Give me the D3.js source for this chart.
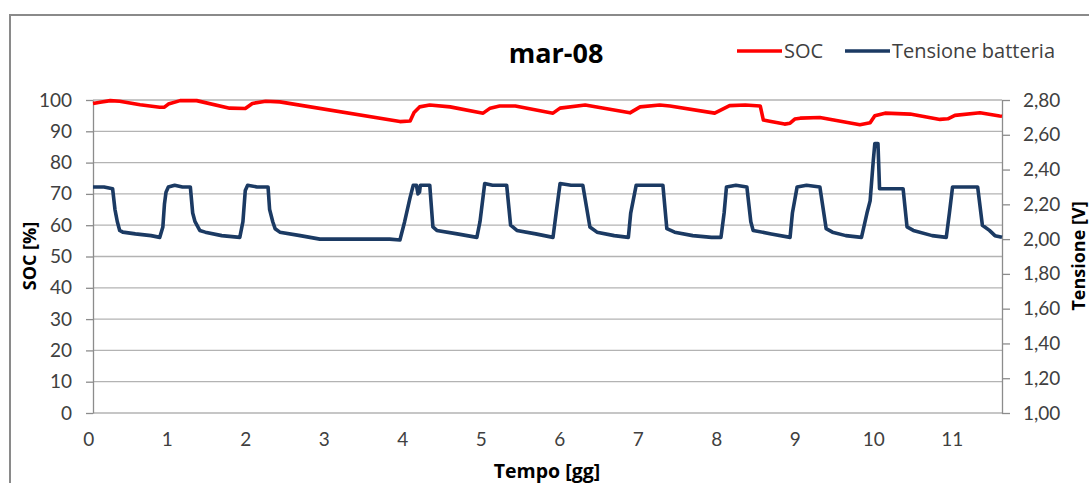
<!DOCTYPE html>
<html>
<head>
<meta charset="utf-8">
<script src="https://cdn.jsdelivr.net/npm/d3@7"></script>
<style>
  body { margin: 0; background: #fff; }
  svg { display: block; font-family: Lato, "Open Sans", sans-serif; }
</style>
</head>
<body>
<svg id="chart"></svg>
<script>
// tempo in giorni, SOC in %
const socTime = [0.06, 0.15, 0.28, 0.40, 0.66, 0.91, 0.97, 1.02, 1.17, 1.38, 1.80, 2.00, 2.09, 2.26, 2.44,
  3.97, 4.10, 4.15, 4.22, 4.35, 4.61, 5.03, 5.12, 5.24, 5.44, 5.92, 6.01, 6.33, 6.90, 7.03, 7.28, 7.41,
  7.98, 8.17, 8.37, 8.56, 8.60, 8.68, 8.87, 8.94, 9.00, 9.07, 9.32, 9.83, 9.96, 10.02, 10.15, 10.47,
  10.85, 10.95, 11.04, 11.36, 11.61, 11.64];
const socValue = [98.9, 99.3, 99.8, 99.6, 98.5, 97.7, 97.7, 98.7, 99.8, 99.8, 97.4, 97.3, 98.9, 99.6, 99.4,
  93.1, 93.3, 96.0, 97.8, 98.4, 97.8, 95.8, 97.4, 98.1, 98.1, 95.8, 97.4, 98.4, 95.9, 97.8, 98.4, 98.1,
  95.8, 98.2, 98.4, 98.1, 93.6, 93.2, 92.3, 92.6, 93.9, 94.2, 94.4, 92.1, 92.7, 95.0, 95.8, 95.5,
  93.8, 94.0, 95.1, 95.9, 94.9, 94.8];

// tensione batteria in V
const vTime = [0.06, 0.20, 0.31, 0.34, 0.37, 0.40, 0.44, 0.60, 0.80, 0.91, 0.95, 0.97, 0.99, 1.02, 1.10, 1.20, 1.30,
  1.33, 1.36, 1.42, 1.49, 1.70, 1.93, 1.97, 2.00, 2.03, 2.15, 2.29, 2.31, 2.35, 2.38, 2.44, 2.70, 2.95,
  3.84, 3.97, 4.03, 4.10, 4.14, 4.18, 4.20, 4.22, 4.23, 4.35, 4.39, 4.44, 4.70, 4.95, 4.99, 5.05, 5.15,
  5.25, 5.33, 5.38, 5.46, 5.70, 5.92, 5.96, 6.01, 6.15, 6.30, 6.39, 6.48, 6.70, 6.88, 6.91, 6.98, 7.15,
  7.32, 7.37, 7.47, 7.70, 7.94, 8.06, 8.10, 8.13, 8.25, 8.39, 8.44, 8.47, 8.70, 8.94, 8.97, 9.03, 9.15,
  9.32, 9.40, 9.48, 9.65, 9.85, 9.92, 9.96, 10.00, 10.02, 10.06, 10.08, 10.38, 10.43, 10.51, 10.75,
  10.93, 10.97, 11.01, 11.15, 11.33, 11.39, 11.48, 11.55, 11.64];
const vValue = [2.30, 2.30, 2.29, 2.17, 2.10, 2.05, 2.04, 2.03, 2.02, 2.01, 2.07, 2.20, 2.27, 2.30, 2.31, 2.30, 2.30,
  2.15, 2.10, 2.05, 2.04, 2.02, 2.01, 2.10, 2.28, 2.31, 2.30, 2.30, 2.17, 2.10, 2.06, 2.04, 2.02, 2.00,
  2.00, 1.995, 2.10, 2.24, 2.31, 2.31, 2.26, 2.27, 2.31, 2.31, 2.07, 2.05, 2.03, 2.01, 2.10, 2.32, 2.31,
  2.31, 2.31, 2.08, 2.05, 2.03, 2.01, 2.15, 2.32, 2.31, 2.31, 2.07, 2.04, 2.02, 2.01, 2.15, 2.31, 2.31,
  2.31, 2.06, 2.04, 2.02, 2.01, 2.01, 2.15, 2.30, 2.31, 2.30, 2.10, 2.05, 2.03, 2.01, 2.15, 2.30, 2.31,
  2.30, 2.06, 2.04, 2.02, 2.01, 2.15, 2.22, 2.45, 2.55, 2.55, 2.29, 2.29, 2.07, 2.05, 2.02,
  2.01, 2.15, 2.30, 2.30, 2.30, 2.08, 2.05, 2.02, 2.01];

const xTicks = [0, 1, 2, 3, 4, 5, 6, 7, 8, 9, 10, 11];
const socTicks = [0, 10, 20, 30, 40, 50, 60, 70, 80, 90, 100];
const vTicks = [1.0, 1.2, 1.4, 1.6, 1.8, 2.0, 2.2, 2.4, 2.6, 2.8];

const svgWidth = 1089;
const svgHeight = 483;
const plot = { left: 93, right: 1002, top: 100, bottom: 413 };
const labelColor = "#404040";
const gridColor = "#b3b3b3";
const axisColor = "#8c8c8c";
const wideFont = "'Open Sans', Lato, sans-serif";

const svg = d3.select("#chart").attr("width", svgWidth).attr("height", svgHeight);

// chart border
svg.append("rect")
  .attr("x", 10).attr("y", 15)
  .attr("width", 1200).attr("height", 600)
  .attr("fill", "none")
  .attr("stroke", "#8a8a8a")
  .attr("stroke-width", 2);

const x = d3.scaleLinear().domain([0.06, 11.64]).range([plot.left, plot.right]);
const ySoc = d3.scaleLinear().domain([0, 100]).range([plot.bottom, plot.top]);
const yV = d3.scaleLinear().domain([1.0, 2.8]).range([plot.bottom, plot.top]);

// gridlines
svg.append("g")
  .selectAll("line")
  .data(socTicks)
  .join("line")
  .attr("x1", plot.left).attr("x2", plot.right)
  .attr("y1", (d) => ySoc(d)).attr("y2", (d) => ySoc(d))
  .attr("stroke", gridColor)
  .attr("stroke-width", 1.3);

// left axis
const leftAxis = svg.append("g")
  .attr("transform", `translate(${plot.left},0)`)
  .call(d3.axisLeft(ySoc).tickValues(socTicks).tickSize(7).tickPadding(14).tickSizeOuter(0));

// right axis
const rightAxis = svg.append("g")
  .attr("transform", `translate(${plot.right},0)`)
  .call(d3.axisRight(yV).tickValues(vTicks).tickSize(8).tickPadding(13).tickSizeOuter(0)
    .tickFormat((d) => d3.format(".2f")(d).replace(".", ",")));

// bottom axis (labels only)
const bottomAxis = svg.append("g")
  .attr("transform", `translate(0,${plot.bottom})`)
  .call(d3.axisBottom(x).tickValues(xTicks).tickSize(0).tickPadding(20).tickSizeOuter(0));
bottomAxis.select(".domain").remove();

[leftAxis, rightAxis, bottomAxis].forEach((a) => {
  a.selectAll(".domain").attr("stroke", axisColor).attr("stroke-width", 1.3);
  a.selectAll(".tick line").attr("stroke", axisColor).attr("stroke-width", 1.3);
  a.selectAll("text")
    .attr("fill", labelColor)
    .style("font-size", "19px")
    .style("font-family", "Lato, 'Open Sans', sans-serif");
});

// series
const socData = socTime.map((t, i) => [t, socValue[i]]);
const vData = vTime.map((t, i) => [t, vValue[i]]);

svg.append("path")
  .datum(vData)
  .attr("fill", "none")
  .attr("stroke", "#1b3a63")
  .attr("stroke-width", 3.6)
  .attr("stroke-linejoin", "round")
  .attr("d", d3.line().x((d) => x(d[0])).y((d) => yV(d[1])));

svg.append("path")
  .datum(socData)
  .attr("fill", "none")
  .attr("stroke", "#ff0000")
  .attr("stroke-width", 3.6)
  .attr("stroke-linejoin", "round")
  .attr("d", d3.line().x((d) => x(d[0])).y((d) => ySoc(d[1])));

// title
svg.append("text")
  .attr("x", 556).attr("y", 63)
  .attr("text-anchor", "middle")
  .style("font-family", wideFont)
  .style("font-size", "27px")
  .style("font-weight", "bold")
  .attr("fill", "#000")
  .text("mar-08");

// legend
const legend = [
  { label: "SOC", color: "#ff0000", x: 737 },
  { label: "Tensione batteria", color: "#1b3a63", x: 845 },
];
const lg = svg.append("g").selectAll("g").data(legend).join("g")
  .attr("transform", (d) => `translate(${d.x},51)`);
lg.append("line")
  .attr("x1", 0).attr("x2", 45)
  .attr("stroke", (d) => d.color)
  .attr("stroke-width", 3.6);
lg.append("text")
  .attr("x", 47).attr("y", 7)
  .style("font-family", wideFont)
  .style("font-size", "20px")
  .attr("fill", labelColor)
  .text((d) => d.label);

// axis titles
svg.append("text")
  .attr("transform", "translate(36,256) rotate(-90)")
  .attr("text-anchor", "middle")
  .style("font-family", wideFont)
  .style("font-size", "18px")
  .style("font-weight", "bold")
  .attr("fill", "#000")
  .text("SOC [%]");

svg.append("text")
  .attr("transform", "translate(1085,256) rotate(-90)")
  .attr("text-anchor", "middle")
  .style("font-family", wideFont)
  .style("font-size", "18px")
  .style("font-weight", "bold")
  .attr("fill", "#000")
  .text("Tensione [V]");

svg.append("text")
  .attr("x", 547).attr("y", 478)
  .attr("text-anchor", "middle")
  .style("font-family", wideFont)
  .style("font-size", "19.5px")
  .style("font-weight", "bold")
  .attr("fill", "#000")
  .text("Tempo [gg]");
</script>
</body>
</html>
